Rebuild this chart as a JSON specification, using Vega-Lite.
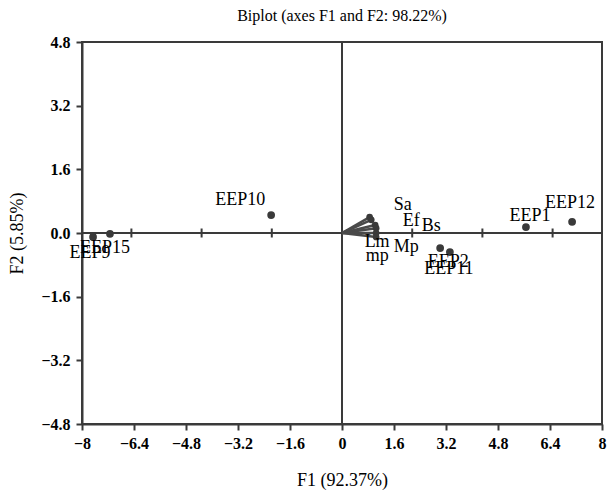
{
  "$schema": "https://vega.github.io/schema/vega-lite/v6.json",
  "width": 520,
  "height": 382,
  "autosize": "none",
  "padding": {"left": 82, "top": 42, "right": 7, "bottom": 72},
  "background": "white",
  "title": {"text": "Biplot (axes F1 and F2: 98.22%)", "font": "Liberation Serif", "fontSize": 16, "fontWeight": "normal", "color": "#000", "offset": 10},
  "config": {
    "view": {"stroke": "#3a3a3a", "strokeWidth": 2},
    "axis": {"grid": false, "domainColor": "#3a3a3a", "domainWidth": 2, "tickColor": "#3a3a3a", "tickWidth": 2, "tickSize": 6, "labelFont": "Liberation Serif", "labelFontSize": 16, "labelFontWeight": "bold", "labelColor": "#000", "titleFont": "Liberation Serif", "titleFontSize": 18, "titleFontWeight": "normal", "titleColor": "#000", "labelFlush": false, "labelOverlap": false}
  },
  "datasets": {
    "obs": [
      {"name": "EEP9", "x": -7.66, "y": -0.10},
      {"name": "EEP15", "x": -7.14, "y": -0.02},
      {"name": "EEP10", "x": -2.18, "y": 0.45},
      {"name": "EEP2", "x": 3.02, "y": -0.38},
      {"name": "EEP11", "x": 3.32, "y": -0.48},
      {"name": "EEP1", "x": 5.66, "y": 0.15},
      {"name": "EEP12", "x": 7.08, "y": 0.28}
    ],
    "vars": [
      {"name": "Sa", "x": 0.85, "y": 0.40},
      {"name": "Ef", "x": 0.90, "y": 0.33},
      {"name": "Bs", "x": 1.02, "y": 0.20},
      {"name": "Mp", "x": 1.05, "y": 0.12},
      {"name": "Lm", "x": 1.05, "y": 0.00},
      {"name": "mp", "x": 1.05, "y": -0.10}
    ],
    "innerTicks": [{"v": -6.48}, {"v": -4.32}, {"v": -2.16}, {"v": 2.16}, {"v": 4.32}, {"v": 6.48}],
    "origin": [{"v": 0}]
  },
  "layer": [
    {
      "data": {"name": "obs"},
      "mark": {"type": "circle", "size": 60, "color": "#3a3a3a", "opacity": 1},
      "encoding": {
        "x": {"field": "x", "type": "quantitative", "title": "F1 (92.37%)",
              "scale": {"domain": [-8, 8], "nice": false, "zero": false},
              "axis": {"values": [-8, -6.4, -4.8, -3.2, -1.6, 0, 1.6, 3.2, 4.8, 6.4, 8], "format": ".1~f", "labelPadding": 5, "titlePadding": 20}},
        "y": {"field": "y", "type": "quantitative", "title": "F2 (5.85%)",
              "scale": {"domain": [-4.8, 4.8], "nice": false, "zero": false},
              "axis": {"values": [-4.8, -3.2, -1.6, 0, 1.6, 3.2, 4.8], "format": ".1f", "labelPadding": 6, "titlePadding": 14}}
      }
    },
    {
      "data": {"name": "origin"},
      "mark": {"type": "rule", "color": "#3a3a3a", "strokeWidth": 2},
      "encoding": {"y": {"field": "v", "type": "quantitative", "title": "F2 (5.85%)"}}
    },
    {
      "data": {"name": "origin"},
      "mark": {"type": "rule", "color": "#3a3a3a", "strokeWidth": 2},
      "encoding": {"x": {"field": "v", "type": "quantitative", "title": "F1 (92.37%)"}}
    },
    {
      "data": {"name": "innerTicks"},
      "mark": {"type": "tick", "orient": "vertical", "size": 9, "thickness": 2, "color": "#3a3a3a", "opacity": 1},
      "encoding": {
        "x": {"field": "v", "type": "quantitative", "title": "F1 (92.37%)"},
        "y": {"datum": 0, "type": "quantitative", "title": "F2 (5.85%)"}
      }
    },
    {
      "data": {"name": "vars"},
      "mark": {"type": "rule", "color": "#4a4a4a", "strokeWidth": 2.5},
      "encoding": {
        "x": {"field": "x", "type": "quantitative", "title": "F1 (92.37%)"},
        "y": {"field": "y", "type": "quantitative", "title": "F2 (5.85%)"},
        "x2": {"datum": 0},
        "y2": {"datum": 0}
      }
    },
    {
      "data": {"name": "vars"},
      "mark": {"type": "circle", "size": 45, "color": "#3a3a3a", "opacity": 1},
      "encoding": {
        "x": {"field": "x", "type": "quantitative", "title": "F1 (92.37%)"},
        "y": {"field": "y", "type": "quantitative", "title": "F2 (5.85%)"}
      }
    },
    {"data": {"name": "obs"}, "transform": [{"filter": "datum.name === 'EEP9'"}],
     "mark": {"type": "text", "font": "Liberation Serif", "fontSize": 18, "color": "#000", "dx": -3, "dy": 16},
     "encoding": {"x": {"field": "x", "type": "quantitative", "title": "F1 (92.37%)"}, "y": {"field": "y", "type": "quantitative", "title": "F2 (5.85%)"}, "text": {"field": "name"}}},
    {"data": {"name": "obs"}, "transform": [{"filter": "datum.name === 'EEP15'"}],
     "mark": {"type": "text", "font": "Liberation Serif", "fontSize": 18, "color": "#000", "dx": -5, "dy": 14},
     "encoding": {"x": {"field": "x", "type": "quantitative", "title": "F1 (92.37%)"}, "y": {"field": "y", "type": "quantitative", "title": "F2 (5.85%)"}, "text": {"field": "name"}}},
    {"data": {"name": "obs"}, "transform": [{"filter": "datum.name === 'EEP10'"}],
     "mark": {"type": "text", "font": "Liberation Serif", "fontSize": 18, "color": "#000", "dx": -31, "dy": -15},
     "encoding": {"x": {"field": "x", "type": "quantitative", "title": "F1 (92.37%)"}, "y": {"field": "y", "type": "quantitative", "title": "F2 (5.85%)"}, "text": {"field": "name"}}},
    {"data": {"name": "obs"}, "transform": [{"filter": "datum.name === 'EEP2'"}],
     "mark": {"type": "text", "font": "Liberation Serif", "fontSize": 18, "color": "#000", "dx": 8, "dy": 14},
     "encoding": {"x": {"field": "x", "type": "quantitative", "title": "F1 (92.37%)"}, "y": {"field": "y", "type": "quantitative", "title": "F2 (5.85%)"}, "text": {"field": "name"}}},
    {"data": {"name": "obs"}, "transform": [{"filter": "datum.name === 'EEP11'"}],
     "mark": {"type": "text", "font": "Liberation Serif", "fontSize": 18, "color": "#000", "dx": -1, "dy": 17},
     "encoding": {"x": {"field": "x", "type": "quantitative", "title": "F1 (92.37%)"}, "y": {"field": "y", "type": "quantitative", "title": "F2 (5.85%)"}, "text": {"field": "name"}}},
    {"data": {"name": "obs"}, "transform": [{"filter": "datum.name === 'EEP1'"}],
     "mark": {"type": "text", "font": "Liberation Serif", "fontSize": 18, "color": "#000", "dx": 4, "dy": -11},
     "encoding": {"x": {"field": "x", "type": "quantitative", "title": "F1 (92.37%)"}, "y": {"field": "y", "type": "quantitative", "title": "F2 (5.85%)"}, "text": {"field": "name"}}},
    {"data": {"name": "obs"}, "transform": [{"filter": "datum.name === 'EEP12'"}],
     "mark": {"type": "text", "font": "Liberation Serif", "fontSize": 18, "color": "#000", "dx": -2, "dy": -19},
     "encoding": {"x": {"field": "x", "type": "quantitative", "title": "F1 (92.37%)"}, "y": {"field": "y", "type": "quantitative", "title": "F2 (5.85%)"}, "text": {"field": "name"}}},
    {"data": {"name": "vars"}, "transform": [{"filter": "datum.name === 'Sa'"}],
     "mark": {"type": "text", "font": "Liberation Serif", "fontSize": 18, "color": "#000", "dx": 33, "dy": -12},
     "encoding": {"x": {"field": "x", "type": "quantitative", "title": "F1 (92.37%)"}, "y": {"field": "y", "type": "quantitative", "title": "F2 (5.85%)"}, "text": {"field": "name"}}},
    {"data": {"name": "vars"}, "transform": [{"filter": "datum.name === 'Ef'"}],
     "mark": {"type": "text", "font": "Liberation Serif", "fontSize": 18, "color": "#000", "dx": 40, "dy": 1},
     "encoding": {"x": {"field": "x", "type": "quantitative", "title": "F1 (92.37%)"}, "y": {"field": "y", "type": "quantitative", "title": "F2 (5.85%)"}, "text": {"field": "name"}}},
    {"data": {"name": "vars"}, "transform": [{"filter": "datum.name === 'Bs'"}],
     "mark": {"type": "text", "font": "Liberation Serif", "fontSize": 18, "color": "#000", "dx": 56, "dy": 1},
     "encoding": {"x": {"field": "x", "type": "quantitative", "title": "F1 (92.37%)"}, "y": {"field": "y", "type": "quantitative", "title": "F2 (5.85%)"}, "text": {"field": "name"}}},
    {"data": {"name": "vars"}, "transform": [{"filter": "datum.name === 'Mp'"}],
     "mark": {"type": "text", "font": "Liberation Serif", "fontSize": 18, "color": "#000", "dx": 30, "dy": 19},
     "encoding": {"x": {"field": "x", "type": "quantitative", "title": "F1 (92.37%)"}, "y": {"field": "y", "type": "quantitative", "title": "F2 (5.85%)"}, "text": {"field": "name"}}},
    {"data": {"name": "vars"}, "transform": [{"filter": "datum.name === 'Lm'"}],
     "mark": {"type": "text", "font": "Liberation Serif", "fontSize": 18, "color": "#000", "dx": 1, "dy": 9},
     "encoding": {"x": {"field": "x", "type": "quantitative", "title": "F1 (92.37%)"}, "y": {"field": "y", "type": "quantitative", "title": "F2 (5.85%)"}, "text": {"field": "name"}}},
    {"data": {"name": "vars"}, "transform": [{"filter": "datum.name === 'mp'"}],
     "mark": {"type": "text", "font": "Liberation Serif", "fontSize": 18, "color": "#000", "dx": 1, "dy": 19},
     "encoding": {"x": {"field": "x", "type": "quantitative", "title": "F1 (92.37%)"}, "y": {"field": "y", "type": "quantitative", "title": "F2 (5.85%)"}, "text": {"field": "name"}}}
  ]
}
